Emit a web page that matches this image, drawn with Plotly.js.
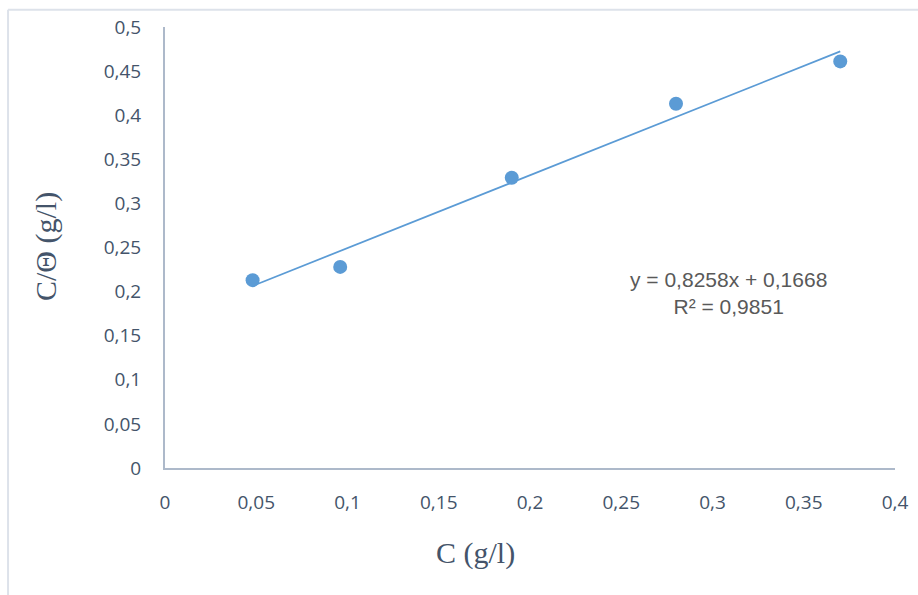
<!DOCTYPE html>
<html>
<head>
<meta charset="utf-8">
<script src="https://cdn.plot.ly/plotly-3.0.1.min.js"></script>
<style>
html,body{margin:0;padding:0;background:#fff;}
#chart{width:918px;height:595px;}
</style>
</head>
<body>
<div id="chart"></div>
<script>
// Data
const concentration = [0.048, 0.096, 0.19, 0.28, 0.37];   // C (g/l)
const ratio = [0.213, 0.228, 0.329, 0.413, 0.461];         // C/Θ (g/l)
const fitSlope = [0.8258];
const fitIntercept = [0.1668];
const fitR2 = [0.9851];
const xTicks = [0, 0.05, 0.1, 0.15, 0.2, 0.25, 0.3, 0.35, 0.4];
const xTickLabels = ["0", "0,05", "0,1", "0,15", "0,2", "0,25", "0,3", "0,35", "0,4"];
const yTicks = [0, 0.05, 0.1, 0.15, 0.2, 0.25, 0.3, 0.35, 0.4, 0.45, 0.5];
const yTickLabels = ["0", "0,05", "0,1", "0,15", "0,2", "0,25", "0,3", "0,35", "0,4", "0,45", "0,5"];

const xMin = Math.min(...concentration), xMax = Math.max(...concentration);
const fitX = [xMin, xMax];
const fitY = fitX.map(v => fitSlope[0] * v + fitIntercept[0]);

const fmt = (v, d) => v.toFixed(d).replace('.', ',');

const axisColor = '#adb9ca';
const textColor = '#44546a';

const traces = [
  {
    x: fitX, y: fitY, type: 'scatter', mode: 'lines',
    line: {color: '#5b9bd5', width: 1.75},
    hoverinfo: 'skip', showlegend: false
  },
  {
    x: concentration, y: ratio, type: 'scatter', mode: 'markers',
    marker: {color: '#5b9bd5', size: 14, line: {width: 0}},
    showlegend: false
  }
];

const layout = {
  width: 918, height: 595,
  margin: {l: 165, r: 23, t: 27, b: 127, pad: 0},
  paper_bgcolor: '#ffffff', plot_bgcolor: '#ffffff',
  showlegend: false,
  font: {family: 'Open Sans, sans-serif', size: 20, color: textColor},
  xaxis: {
    range: [0, 0.4], tickvals: xTicks, ticktext: xTickLabels,
    showgrid: false, zeroline: false, showline: true, linecolor: axisColor, linewidth: 2,
    ticks: '', ticklabelstandoff: 16,
    tickfont: {family: 'Open Sans, sans-serif', size: 19, color: textColor},
    fixedrange: true
  },
  yaxis: {
    range: [0, 0.5], tickvals: yTicks, ticktext: yTickLabels,
    showgrid: false, zeroline: false, showline: true, linecolor: axisColor, linewidth: 2,
    ticks: '', ticklabelstandoff: 18,
    tickfont: {family: 'Open Sans, sans-serif', size: 19, color: textColor},
    fixedrange: true
  },
  shapes: [
    {type: 'line', xref: 'paper', yref: 'paper', x0: -0.215, x1: -0.215, y0: 1.039, y1: -0.30, line: {color: '#dde2ea', width: 2}},
    {type: 'line', xref: 'paper', yref: 'paper', x0: -0.215, x1: 1.05, y0: 1.039, y1: 1.039, line: {color: '#dde2ea', width: 2}}
  ],
  annotations: [
    {
      xref: 'paper', yref: 'paper', x: (475 - 165) / 730, y: (468 - 553) / 441,
      text: 'C (g/l)', showarrow: false, xanchor: 'center', yanchor: 'middle',
      font: {family: 'Liberation Serif, Times New Roman, serif', size: 30, color: textColor}
    },
    {
      xref: 'paper', yref: 'paper', x: (46 - 165) / 730, y: (468 - 247) / 441,
      text: 'C/Θ (g/l)', showarrow: false, textangle: -90, xanchor: 'center', yanchor: 'middle',
      font: {family: 'Liberation Serif, Times New Roman, serif', size: 30, color: textColor}
    },
    {
      xref: 'paper', yref: 'paper', x: (728 - 165) / 730, y: (468 - 293) / 441,
      text: 'y = ' + fmt(fitSlope[0], 4) + 'x + ' + fmt(fitIntercept[0], 4) + '<br>R² = ' + fmt(fitR2[0], 4),
      showarrow: false, xanchor: 'center', yanchor: 'middle', align: 'center',
      font: {family: 'Liberation Sans, Arial, sans-serif', size: 21, color: '#595959'}
    }
  ]
};

Plotly.newPlot('chart', traces, layout, {displayModeBar: false, staticPlot: true});
</script>
</body>
</html>
